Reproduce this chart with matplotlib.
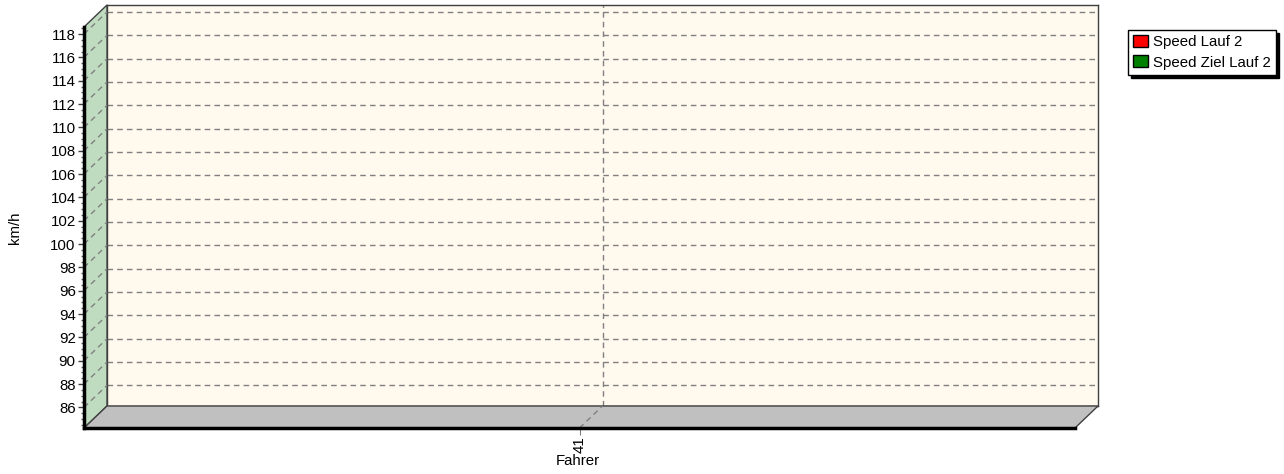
import numpy as np
import matplotlib
matplotlib.use('Agg')
import matplotlib.pyplot as plt
from matplotlib.patches import Polygon
from matplotlib.ticker import MultipleLocator

plt.rcParams['font.family'] = ['Liberation Sans', 'DejaVu Sans']
plt.rcParams['font.size'] = 10.8

# ---- data (chart is empty: no values for driver 41) ----
categories = ['41']
speed_lauf2 = [np.nan]
speed_ziel_lauf2 = [np.nan]
series_labels = ['Speed Lauf 2', 'Speed Ziel Lauf 2']
yticks = np.arange(86, 119, 2)

W, H = 1284, 474
ylim = (84.23, 118.6)
x = np.arange(len(categories))
xlim = (-0.5, len(categories) - 0.5)
DX, DY = 23, 22  # 3d depth in pixels

fig = plt.figure(figsize=(W / 100, H / 100), dpi=100)

# back wall
back = fig.add_axes([107 / W, 1 - 406 / H, 991 / W, 401 / H])
back.set_facecolor('#FFF9EE')
back.set_xlim(*xlim)
back.set_ylim(*ylim)
back.bar(x - 0.2, speed_lauf2, 0.4, color='#FF0000', edgecolor='black', label=series_labels[0])
back.bar(x + 0.2, speed_ziel_lauf2, 0.4, color='#008000', edgecolor='black', label=series_labels[1])
back.set_yticks(yticks)
back.set_xticks(x)
back.grid(True, color='#808080', linestyle=(0, (4, 3)), linewidth=1)
back.tick_params(length=0, labelleft=False, labelbottom=False)
for s in back.spines.values():
    s.set_color('#404040')
    s.set_linewidth(1)

# front plane with the axes
front = fig.add_axes([84 / W, 1 - 428 / H, 991 / W, 401 / H], facecolor='none')
front.set_zorder(3)
front.set_xlim(*xlim)
front.set_ylim(*ylim)
front.spines['top'].set_visible(False)
front.spines['right'].set_visible(False)
front.spines['left'].set_linewidth(2.5)
front.spines['bottom'].set_linewidth(2.5)
front.set_yticks(yticks)
front.yaxis.set_minor_locator(MultipleLocator(0.5))
front.tick_params(axis='y', which='major', length=4, width=1, color='#404040', pad=2)
front.tick_params(axis='y', which='minor', length=2, width=1, color='#606060')
front.set_xticks(x)
front.set_xticklabels(categories, rotation=90)
front.tick_params(axis='x', length=5, color='#808080', pad=1)
front.set_ylabel('km/h')
front.yaxis.set_label_coords((22 - 84) / 991, 0.5)
front.set_xlabel('Fahrer')
front.xaxis.set_label_coords((578 - 84) / 991, (428 - 454) / 401)

# side wall and floor
b = back.get_position()
f = front.get_position()
fig.add_artist(Polygon([(f.x0, f.y0), (b.x0, b.y0), (b.x0, b.y1), (f.x0, f.y1)],
                       closed=True, transform=fig.transFigure, facecolor='#C0DCC0',
                       edgecolor='#404040', linewidth=1, zorder=1))
fig.add_artist(Polygon([(f.x0, f.y0), (f.x1, f.y0), (b.x1, b.y0), (b.x0, b.y0)],
                       closed=True, transform=fig.transFigure, facecolor='#C0C0C0',
                       edgecolor='#404040', linewidth=1, zorder=1))

# depth grid lines on the side wall and floor
dx = DX / 991 * (xlim[1] - xlim[0])
dy = DY / 401 * (ylim[1] - ylim[0])
for t in yticks:
    front.plot([xlim[0], xlim[0] + dx], [t, t + dy], color='#808080',
               linestyle=(0, (4, 3)), linewidth=1, clip_on=False)
for xi in x:
    front.plot([xi, xi + dx], [ylim[0], ylim[0] + dy], color='#808080',
               linestyle=(0, (4, 3)), linewidth=1, clip_on=False)

leg = back.legend(loc='upper left', bbox_to_anchor=(1128 / W, 1 - 30 / H),
                  bbox_transform=fig.transFigure, fancybox=False,
                  shadow={'color': 'black', 'alpha': 1}, edgecolor='black',
                  framealpha=1, borderpad=0.35, handlelength=0.95, handleheight=0.85,
                  handletextpad=0.35, labelspacing=0.4, borderaxespad=0)
leg.get_frame().set_linewidth(1)

fig.savefig('out.png', dpi=100)
